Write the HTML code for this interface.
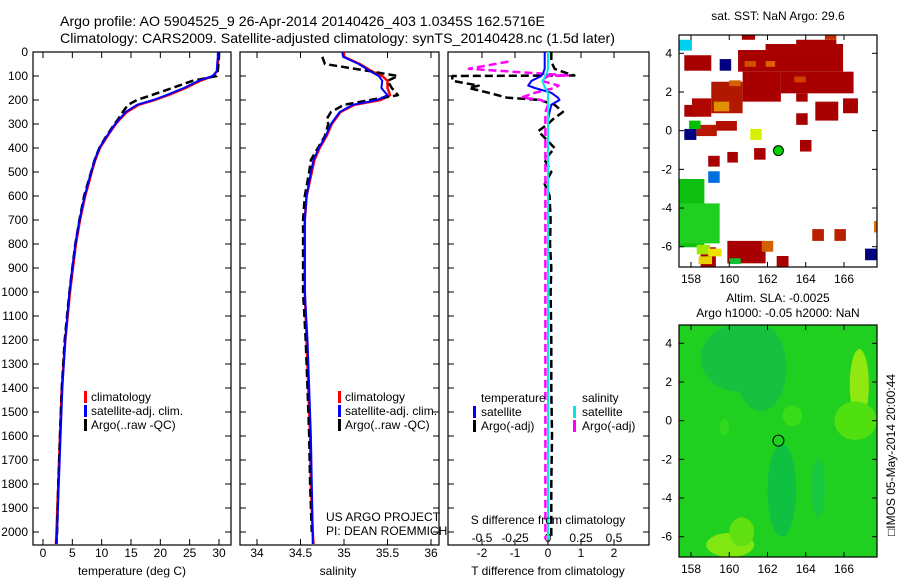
<!DOCTYPE html>
<html><head><meta charset="utf-8"><style>
body{margin:0;background:#fff}
svg{display:block;font-family:"Liberation Sans",sans-serif}
text{fill:#000}
</style></head><body>
<svg id="c" width="900" height="580" viewBox="0 0 900 580">
<text x="60" y="26" font-size="14" textLength="485" lengthAdjust="spacingAndGlyphs">Argo profile: AO 5904525_9 26-Apr-2014 20140426_403 1.0345S 162.5716E</text>
<text x="60" y="43" font-size="14" textLength="555" lengthAdjust="spacingAndGlyphs">Climatology: CARS2009. Satellite-adjusted climatology: synTS_20140428.nc (1.5d later)</text>
<g id="g"></g>
</svg>
<script>
// ---- profile data ----
const depthTicks=[0,100,200,300,400,500,600,700,800,900,1000,1100,1200,1300,1400,1500,1600,1700,1800,1900,2000];
const tempTicks=[0,5,10,15,20,25,30];
const salTicks=[34,34.5,35,35.5,36];
const tdTicks=[-2,-1,0,1,2];
const sdTicks=[-0.5,-0.25,0,0.25,0.5];
const sdTickLabels=["-0.5","-0.25","0","0.25","0.5"];
const depths=[0,20,50,80,100,120,150,180,200,220,250,280,300,350,400,450,500,600,700,800,900,1000,1200,1400,1600,1800,2000,2050];
const tempClim=[29.9,29.9,29.8,29.7,29.0,26.8,24.3,21.3,19.0,16.3,14.3,13.1,12.4,11.0,9.7,8.9,8.3,7.2,6.3,5.6,5.1,4.6,3.8,3.2,2.9,2.6,2.3,2.2];
const tempSat=[29.8,29.8,29.7,29.6,28.9,26.5,24.0,21.0,18.8,16.0,14.1,13.0,12.3,10.9,9.6,8.8,8.2,7.1,6.2,5.5,5.0,4.5,3.8,3.3,3.0,2.7,2.4,2.3];
const tempArgo=[30.0,30.0,29.9,29.8,29.6,25.5,22.0,18.5,16.0,14.5,13.6,12.8,12.2,10.8,9.6,8.8,8.2,7.0,6.2,5.5,5.0,4.5,3.7,3.2,2.9,2.6,2.4,2.3];
const salClim=[35.0,35.0,35.18,35.32,35.44,35.5,35.5,35.53,35.42,35.12,34.96,34.9,34.86,34.8,34.72,34.66,34.63,34.57,34.55,34.55,34.55,34.55,34.57,34.59,34.61,34.62,34.64,34.65];
const salSat=[34.98,34.99,35.17,35.3,35.4,35.44,35.43,35.5,35.38,35.1,34.95,34.89,34.85,34.79,34.71,34.65,34.62,34.57,34.55,34.55,34.55,34.55,34.58,34.6,34.62,34.63,34.64,34.64];
const salArgo=[null,34.75,34.78,35.3,35.62,35.5,35.55,35.62,35.3,35.0,34.85,34.8,34.82,34.78,34.7,34.62,34.6,34.55,34.53,34.53,34.53,34.53,34.56,34.58,34.6,34.61,34.63,null];
const tdDepths=[0,40,70,90,98,100,120,140,150,170,190,200,220,250,280,300,330,350,400,450,500,550,600,700,800,900,1000,1200,1400,1600,1800,2000,2030];
const tdArgo=[0.1,0.1,0.2,0.6,0.8,-2.9,-2.9,-2.1,-2.4,-1.8,-1.25,-0.25,0.2,0.45,0.15,0.0,-0.3,-0.15,0.2,-0.1,0.1,-0.1,0.05,0.08,0.06,0.1,0.08,0.1,0.1,0.12,0.1,0.1,0.1];
const tdSat=[-0.1,-0.1,-0.1,-0.15,-0.2,-0.2,-0.5,-0.6,-0.4,0.1,0.3,0.35,0.1,0.05,0.0,0.0,0.0,0.0,0.0,0.0,0.0,0.0,0.0,0.0,0.0,0.0,0.0,0.0,0.0,0.0,0.0,0.0,0.0];
const sdArgo=[null,-0.3,-0.6,-0.05,0.15,0.0,-0.05,0.08,0.05,-0.1,-0.2,-0.05,0.0,-0.02,-0.02,-0.02,-0.02,-0.02,-0.02,-0.02,-0.02,-0.02,-0.02,-0.02,-0.02,-0.02,-0.02,-0.02,-0.02,-0.02,-0.02,-0.02,-0.02];
const sdSat=[0.0,0.0,0.0,-0.01,-0.02,-0.02,-0.04,-0.03,-0.02,0.0,0.0,0.0,0.0,0.0,0.0,0.0,0.0,0.0,0.0,0.0,0.0,0.0,0.0,0.0,0.0,0.0,0.0,0.0,0.0,0.0,0.0,0.0,0.0];
// ---- map data ----
const lonTicks=[158,160,162,164,166];
const latTicks=[-6,-4,-2,0,2,4];
const sstCellsLon0=[160.46,161.9,163.5,160.7,162.7,163.5,159.06,157.65,157.65,158.05,164.5,165.95,163.5,160.66,165.0,163.7,161.3,159.9,158.9,159.3,158.28,159.9,158.5,162.48,164.34,165.5,161.7,159.5,157.65,167.1,157.4,158.9,161.1,157.9,167.57,157.4,157.4,158.3,160.8,161.9,163.4,159.2,160.0,158.4,158.9,160.0];
const sstCellsLat0=[3.05,4.17,4.48,1.5,1.93,1.5,0.9,3.1,0.72,0.72,0.52,0.9,0.3,4.7,4.7,-1.08,-1.5,-1.65,-1.86,0.0,-0.28,-6.86,-7.05,-7.05,-5.7,-5.7,-6.26,3.1,-0.48,-6.7,4.14,-2.7,-0.48,0.09,-5.26,-6.03,-5.83,-6.4,3.3,3.3,2.5,1.0,2.3,-6.9,-6.5,-6.9];
const sstCellsLon1=[165.95,165.95,165.6,162.7,166.5,164.1,160.7,159.06,158.28,159.06,165.7,166.73,164.1,161.35,165.6,164.3,161.9,160.45,159.5,160.4,159.35,161.9,159.3,163.1,164.95,166.1,162.3,160.1,158.28,167.72,158.05,159.5,161.7,158.5,167.72,158.7,159.5,159.0,161.4,162.4,164.0,160.0,160.6,159.1,159.6,160.6];
const sstCellsLat1=[4.17,4.48,4.7,3.05,3.05,1.93,2.53,3.9,1.33,1.67,1.5,1.67,0.9,4.95,4.95,-0.48,-0.9,-1.1,-1.3,0.5,0.3,-5.7,-6.03,-6.48,-5.09,-5.09,-5.7,3.7,0.09,-6.1,4.7,-2.1,0.09,0.52,-4.67,-2.5,-3.76,-5.9,3.6,3.6,2.8,1.5,2.6,-6.5,-6.1,-6.6];
const sstCellsColor=["#a80000","#a80000","#a80000","#a80000","#a80000","#a80000","#b01800","#a80000","#a80000","#b00800","#a80000","#a80000","#a80000","#a80000","#c83000","#a80000","#a80000","#a80000","#a80000","#b01000","#b81800","#a80000","#a80000","#a80000","#b82000","#b82000","#d06000","#000080","#000080","#000080","#00d0f0","#0070e0","#d8f000","#00c000","#e07000","#10c010","#20d020","#a0e800","#d05000","#e06000","#d04000","#e09000","#d06000","#e8d000","#f0e000","#10c030"];
const slaLon0=[158.5,160.3,162.0,166.3,165.5,158.8,160.0,159.5,162.8,164.3];
const slaLat0=[1.5,0.5,-6.0,0.0,-1.0,-7.05,-6.5,-0.8,-0.3,-5.0];
const slaLon1=[162.5,163.0,163.5,167.3,167.7,161.3,161.3,160.0,163.8,165.0];
const slaLat1=[4.95,4.95,-1.2,3.7,1.0,-5.8,-5.0,0.1,0.8,-2.0];
const slaColor=["#18c040","#18c040","#10c040","#90e810","#50e010","#80e810","#60e010","#30d820","#38dc18","#18c840"];
const argoLon=162.5716, argoLat=-1.0345;

const G=document.getElementById('g');
const NS='http://www.w3.org/2000/svg';
function mk(tag,attrs,parent){const e=document.createElementNS(NS,tag);for(const k in attrs)e.setAttribute(k,attrs[k]);(parent||G).appendChild(e);return e;}
function lin(d0,d1,r0,r1){return v=>r0+(v-d0)*(r1-r0)/(d1-d0);}

const yD=lin(0,2000,52,532);
const PB=545,PT=52;
const xT=lin(0,30,43,219);
const xS=lin(34,36,257,431);
const xTD=lin(0,2,548,614);
const xSD=lin(0,0.5,548,614);

function frame(x0,x1,name){
  const r=mk('rect',{x:x0,y:PT,width:x1-x0,height:PB-PT,fill:'none',stroke:'#000','stroke-width':1.2});
  
  
}
function line(xs,ys,color,width,dash,name,sx){
  let d='',pen=false;
  for(let i=0;i<xs.length;i++){
    if(xs[i]===null){pen=false;continue;}
    d+=(pen?'L':'M')+sx(xs[i]).toFixed(1)+','+yD(ys[i]).toFixed(1);pen=true;
  }
  const p=mk('path',{d:d,fill:'none',stroke:color,'stroke-width':width,'stroke-dasharray':dash||'none','stroke-linejoin':'round'});
  
  
}
function xticks(ticks,sx,labels,ly,top,bottom,name){
  ticks.forEach((t,i)=>{
    const x=sx(t);
    if(bottom){mk('line',{x1:x,x2:x,y1:PB,y2:PB-6,stroke:'#000'});}
    if(top){mk('line',{x1:x,x2:x,y1:PT,y2:PT+6,stroke:'#000'});}
    const tx=mk('text',{x:x,y:ly,'font-size':12,'text-anchor':'middle'});
    tx.textContent=labels?labels[i]:String(t);
    
    
  });
}
function yticks(x0,x1){
  depthTicks.forEach(t=>{const y=yD(t);mk('line',{x1:x0,x2:x0+6,y1:y,y2:y,stroke:'#000'});mk('line',{x1:x1,x2:x1-6,y1:y,y2:y,stroke:'#000'});});
}
function label(x,y,txt,name,anchor,size){
  const t=mk('text',{x:x,y:y,'font-size':size||12,'text-anchor':anchor||'start'});
  t.textContent=txt;
  
  
  return t;
}
function legendMark(x,y,color){mk('rect',{x:x,y:y-10,width:3,height:12,fill:color});}

depthTicks.forEach(t=>{label(28,yD(t)+4,String(t),'depth-tick-label','end');});

// panel 1 temperature
frame(33,231,'temperature-panel');
yticks(33,231);
xticks(tempTicks,xT,null,557,true,true,'temperature-tick-label');
line(tempClim,depths,'#ff0000',2.5,null,'temperature-climatology-line',xT);
line(tempArgo,depths,'#000',2.5,'8,4','temperature-argo-line',xT);
line(tempSat,depths,'#0000ff',2,null,'temperature-satellite-line',xT);
label(132,575,'temperature (deg C)','temperature-axis-title','middle');
legendMark(84,401,'#ff0000');label(91,401,'climatology','legend-climatology');
legendMark(84,415,'#0000ff');label(91,415,'satellite-adj. clim.','legend-satellite');
legendMark(84,429,'#000');label(91,429,'Argo(..raw -QC)','legend-argo');

// panel 2 salinity
frame(240,439,'salinity-panel');
yticks(240,439);
xticks(salTicks,xS,null,557,true,true,'salinity-tick-label');
line(salClim,depths,'#ff0000',2.5,null,'salinity-climatology-line',xS);
line(salArgo,depths,'#000',2.5,'8,4','salinity-argo-line',xS);
line(salSat,depths,'#0000ff',2,null,'salinity-satellite-line',xS);
label(338,575,'salinity','salinity-axis-title','middle');
legendMark(338,401,'#ff0000');label(345,401,'climatology','legend-climatology-2');
legendMark(338,415,'#0000ff');label(345,415,'satellite-adj. clim.','legend-satellite-2');
legendMark(338,429,'#000');label(345,429,'Argo(..raw -QC)','legend-argo-2');
label(326,521,'US ARGO PROJECT','project-credit');
label(326,535,'PI: DEAN ROEMMICH','pi-credit');

// panel 3 differences
frame(448,649,'difference-panel');
yticks(448,649);
xticks(tdTicks,xTD,null,557,true,true,'t-difference-tick-label');
xticks(sdTicks,xSD,sdTickLabels,542,false,true,'s-difference-tick-label');
line(tdArgo,tdDepths,'#000',2.5,'8,4','t-difference-argo-line',xTD);
line(sdArgo,tdDepths,'#ff00ff',2.5,'8,4','s-difference-argo-line',xSD);
line(tdSat,tdDepths,'#0000ff',2,null,'t-difference-satellite-line',xTD);
line(sdSat,tdDepths,'#00e8e8',2,null,'s-difference-satellite-line',xSD);
label(548,575,'T difference from climatology','t-difference-axis-title','middle');
label(548,524,'S difference from climatology','s-difference-axis-title','middle');
label(481,402,'temperature','legend-temperature-header');
label(582,402,'salinity','legend-salinity-header');
legendMark(473,416,'#0000ff');label(481,416,'satellite','legend-t-satellite');
legendMark(473,430,'#000');label(481,430,'Argo(-adj)','legend-t-argo');
legendMark(573,416,'#00e8e8');label(582,416,'satellite','legend-s-satellite');
legendMark(573,430,'#ff00ff');label(582,430,'Argo(-adj)','legend-s-argo');

// maps
const mx=lin(158,166,691,844);
function mapFrame(y0,y1,latRef,name,bg){
  const my=lin(4,-6,latRef[0],latRef[1]);
  const clip='clip'+name;
  const cp=mk('clipPath',{id:clip});mk('rect',{x:679,y:y0,width:198,height:y1-y0},cp);
  const g=mk('g',{'clip-path':'url(#'+clip+')'});
  
  
  mk('rect',{x:679,y:y0,width:198,height:y1-y0,fill:bg},g);
  return {g,my};
}
function mapAxes(y0,y1,my,name){
  const r=mk('rect',{x:679,y:y0,width:198,height:y1-y0,fill:'none',stroke:'#000','stroke-width':1.2});
  
  
  lonTicks.forEach(t=>{const x=mx(t);mk('line',{x1:x,x2:x,y1:y1,y2:y1-5,stroke:'#000'});mk('line',{x1:x,x2:x,y1:y0,y2:y0+5,stroke:'#000'});label(x,y1+16,String(t),name+'-lon-tick','middle');});
  latTicks.forEach(t=>{const y=my(t);mk('line',{x1:679,x2:684,y1:y,y2:y,stroke:'#000'});mk('line',{x1:877,x2:872,y1:y,y2:y,stroke:'#000'});label(672,y+4,String(t),name+'-lat-tick','end');});
}
let M=mapFrame(35,267,[53.3,246.7],'sst-map','#fff');
for(let i=0;i<sstCellsLon0.length;i++){
  const x0=mx(sstCellsLon0[i]),x1=mx(sstCellsLon1[i]),y0=M.my(sstCellsLat1[i]),y1=M.my(sstCellsLat0[i]);
  const r=mk('rect',{x:x0,y:y0,width:x1-x0,height:y1-y0,fill:sstCellsColor[i]},M.g);
  
  
}
let c=mk('circle',{cx:mx(argoLon),cy:M.my(argoLat),r:5,fill:'#00d000',stroke:'#000','stroke-width':1});


mapAxes(35,267,M.my,'sst-map');
label(778,20,'sat. SST: NaN  Argo: 29.6','sst-map-title','middle');

M=mapFrame(325,557,[343.3,536.7],'sla-map','#20d020');
for(let i=0;i<slaLon0.length;i++){
  const x0=mx(slaLon0[i]),x1=mx(slaLon1[i]),y0=M.my(slaLat1[i]),y1=M.my(slaLat0[i]);
  const e=mk('ellipse',{cx:(x0+x1)/2,cy:(y0+y1)/2,rx:(x1-x0)/2,ry:(y1-y0)/2,fill:slaColor[i]},M.g);
  
  
}
c=mk('circle',{cx:mx(argoLon),cy:M.my(argoLat),r:5.5,fill:'none',stroke:'#000','stroke-width':1});


mapAxes(325,557,M.my,'sla-map');
label(778,302,'Altim. SLA: -0.0025','sla-map-title','middle');
label(778,317,'Argo h1000: -0.05 h2000: NaN','sla-map-subtitle','middle');
const v=label(0,0,'\u25A1IMOS 05-May-2014 20:00:44','imos-timestamp','middle');
v.setAttribute('transform','translate(895,455) rotate(-90)');
</script>
</body></html>
